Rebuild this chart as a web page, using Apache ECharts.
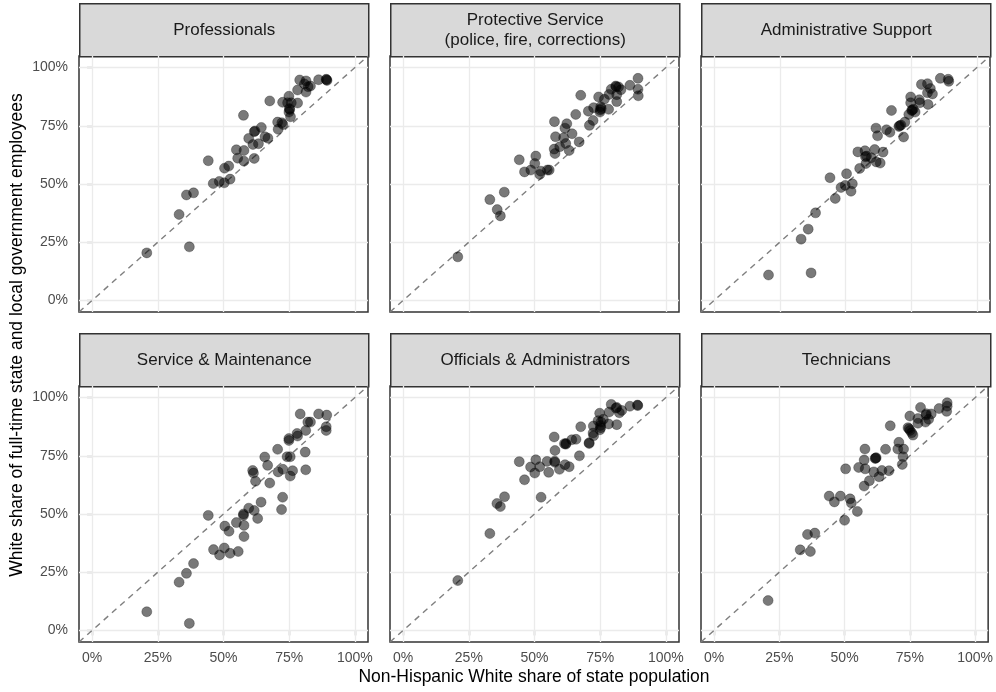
<!DOCTYPE html>
<html>
<head>
<meta charset="utf-8">
<script src="https://cdn.jsdelivr.net/npm/echarts@6/dist/echarts.min.js"></script>
<style>
  html, body { margin: 0; padding: 0; background: #fff; }
  #chart { width: 996px; height: 692px; }
</style>
</head>
<body>
<div id="chart"></div>
<script>
// Occupation groups shown as facets, left to right, top to bottom
const panelTitles = [
  'Professionals',
  'Protective Service\n(police, fire, corrections)',
  'Administrative Support',
  'Service & Maintenance',
  'Officials & Administrators',
  'Technicians'
];

// Axis ticks (shares, 0–1) shared by both axes of every facet
const tickValues = [0, 0.25, 0.5, 0.75, 1];

// [non-Hispanic White share of state population, White share of state/local employees]
const professionals = [
  [0.208,0.204],[0.370,0.230],[0.331,0.369],[0.359,0.453],[0.386,0.462],[0.442,0.600],
  [0.461,0.502],[0.484,0.511],[0.503,0.505],[0.525,0.521],[0.504,0.568],[0.520,0.577],
  [0.549,0.647],[0.554,0.611],[0.578,0.644],[0.578,0.598],[0.576,0.795],[0.596,0.696],
  [0.612,0.670],[0.617,0.610],[0.617,0.725],[0.620,0.728],[0.633,0.673],[0.644,0.743],
  [0.658,0.703],[0.669,0.697],[0.676,0.857],[0.708,0.735],[0.706,0.766],[0.722,0.763],
  [0.726,0.756],[0.725,0.851],[0.749,0.877],[0.744,0.849],[0.758,0.849],[0.751,0.824],
  [0.749,0.809],[0.755,0.789],[0.782,0.848],[0.782,0.904],[0.790,0.947],[0.814,0.943],
  [0.814,0.895],[0.822,0.918],[0.831,0.921],[0.808,0.930],[0.862,0.948],[0.891,0.950],
  [0.894,0.945],[0.752,0.820],[0.892,0.948]
];

const protectiveService = [
  [0.208,0.187],[0.330,0.433],[0.358,0.390],[0.370,0.363],[0.385,0.465],[0.442,0.604],
  [0.462,0.552],[0.486,0.560],[0.501,0.588],[0.505,0.620],[0.520,0.541],[0.524,0.555],
  [0.549,0.560],[0.556,0.560],[0.576,0.768],[0.575,0.650],[0.578,0.631],[0.580,0.703],
  [0.596,0.660],[0.611,0.699],[0.616,0.740],[0.623,0.759],[0.619,0.674],[0.632,0.644],
  [0.643,0.716],[0.657,0.799],[0.670,0.681],[0.676,0.881],[0.705,0.813],[0.709,0.752],
  [0.723,0.773],[0.725,0.828],[0.744,0.874],[0.752,0.832],[0.754,0.824],[0.749,0.809],
  [0.766,0.864],[0.782,0.821],[0.784,0.885],[0.792,0.907],[0.809,0.921],[0.813,0.884],
  [0.813,0.854],[0.820,0.917],[0.829,0.905],[0.863,0.924],[0.894,0.954],[0.894,0.907],
  [0.895,0.879],[0.750,0.818],[0.811,0.918]
];

const administrativeSupport = [
  [0.207,0.109],[0.369,0.118],[0.331,0.263],[0.358,0.306],[0.386,0.376],[0.441,0.527],
  [0.461,0.438],[0.483,0.485],[0.499,0.494],[0.504,0.544],[0.521,0.469],[0.526,0.501],
  [0.547,0.638],[0.554,0.567],[0.574,0.643],[0.576,0.617],[0.578,0.588],[0.598,0.613],
  [0.611,0.648],[0.616,0.740],[0.617,0.595],[0.622,0.707],[0.632,0.590],[0.643,0.637],
  [0.656,0.733],[0.669,0.722],[0.675,0.816],[0.703,0.747],[0.711,0.753],[0.721,0.702],
  [0.726,0.766],[0.741,0.799],[0.748,0.874],[0.748,0.849],[0.752,0.816],[0.758,0.821],
  [0.765,0.809],[0.781,0.862],[0.783,0.849],[0.789,0.928],[0.812,0.931],[0.812,0.892],
  [0.814,0.842],[0.823,0.910],[0.831,0.887],[0.861,0.954],[0.891,0.950],[0.893,0.941],
  [0.580,0.620],[0.706,0.750],[0.754,0.818]
];

const serviceMaintenance = [
  [0.208,0.080],[0.370,0.030],[0.331,0.207],[0.359,0.245],[0.386,0.287],[0.442,0.494],
  [0.462,0.347],[0.485,0.324],[0.503,0.354],[0.505,0.448],[0.521,0.426],[0.525,0.331],
  [0.549,0.463],[0.556,0.339],[0.576,0.494],[0.578,0.451],[0.578,0.403],[0.596,0.525],
  [0.611,0.687],[0.614,0.676],[0.617,0.515],[0.622,0.641],[0.630,0.481],[0.643,0.551],
  [0.657,0.745],[0.668,0.709],[0.676,0.633],[0.706,0.778],[0.708,0.681],[0.721,0.519],
  [0.725,0.572],[0.726,0.692],[0.742,0.746],[0.749,0.824],[0.749,0.816],[0.754,0.746],
  [0.754,0.663],[0.763,0.686],[0.780,0.846],[0.782,0.835],[0.792,0.930],[0.811,0.766],
  [0.813,0.690],[0.813,0.859],[0.821,0.895],[0.831,0.895],[0.862,0.930],[0.893,0.925],
  [0.891,0.875],[0.891,0.859],[0.576,0.500]
];

const officialsAdministrators = [
  [0.208,0.214],[0.330,0.416],[0.357,0.545],[0.370,0.532],[0.386,0.574],[0.442,0.725],
  [0.462,0.647],[0.485,0.702],[0.501,0.676],[0.505,0.733],[0.520,0.703],[0.525,0.572],
  [0.548,0.726],[0.554,0.679],[0.575,0.831],[0.577,0.727],[0.578,0.773],[0.595,0.692],
  [0.614,0.802],[0.620,0.803],[0.616,0.712],[0.632,0.703],[0.642,0.819],[0.658,0.821],
  [0.671,0.750],[0.676,0.875],[0.708,0.803],[0.723,0.848],[0.725,0.836],[0.724,0.878],
  [0.748,0.933],[0.742,0.901],[0.752,0.871],[0.753,0.895],[0.762,0.907],[0.782,0.887],
  [0.784,0.938],[0.792,0.971],[0.813,0.958],[0.813,0.884],[0.823,0.935],[0.832,0.945],
  [0.863,0.963],[0.892,0.968],[0.893,0.966],[0.749,0.862],[0.577,0.722],[0.708,0.806],
  [0.810,0.955],[0.751,0.880],[0.619,0.800]
];

const technicians = [
  [0.207,0.128],[0.330,0.346],[0.358,0.412],[0.369,0.339],[0.386,0.418],[0.441,0.577],
  [0.461,0.552],[0.484,0.577],[0.500,0.473],[0.504,0.694],[0.521,0.565],[0.526,0.547],
  [0.549,0.511],[0.554,0.700],[0.575,0.620],[0.575,0.732],[0.578,0.779],[0.579,0.694],
  [0.595,0.643],[0.612,0.681],[0.617,0.739],[0.621,0.742],[0.632,0.660],[0.643,0.687],
  [0.657,0.778],[0.670,0.686],[0.675,0.879],[0.704,0.779],[0.708,0.808],[0.721,0.713],
  [0.724,0.746],[0.726,0.779],[0.743,0.871],[0.750,0.921],[0.751,0.859],[0.757,0.849],
  [0.762,0.839],[0.781,0.910],[0.781,0.890],[0.791,0.958],[0.813,0.931],[0.810,0.895],
  [0.822,0.907],[0.832,0.930],[0.862,0.953],[0.893,0.978],[0.893,0.963],[0.891,0.941],
  [0.747,0.866],[0.619,0.740],[0.812,0.925]
];

const panelData = [
  professionals, protectiveService, administrativeSupport,
  serviceMaintenance, officialsAdministrators, technicians
];

// Panel geometry (pixels)
const colLeft = [79, 390, 701];
const rowTop = [3, 333];
const panelW = 289;
const stripH = 53;
const plotH = 256;
const axisMin = -0.05, axisMax = 1.05;

const FONT = '"Liberation Sans", Arial, Helvetica, sans-serif';
const pct = v => Math.round(v * 100) + '%';

const grids = [], xAxes = [], yAxes = [], series = [], graphics = [];

panelData.forEach((pts, i) => {
  const col = i % 3, row = Math.floor(i / 3);
  const left = colLeft[col];
  const top = rowTop[row] + stripH;
  grids.push({
    left: left, top: top, width: panelW, height: plotH,
    show: true, borderColor: '#333333', borderWidth: 1.5, backgroundColor: '#ffffff',
    containLabel: false
  });
  const showX = row === 1;
  const showY = col === 0;
  xAxes.push({
    type: 'value', gridIndex: i, min: axisMin, max: axisMax,
    axisLine: { show: false },
    splitLine: { show: false },
    axisTick: { show: showX, customValues: tickValues, length: 5, inside: false,
                lineStyle: { color: '#333333', width: 1.2 } },
    axisLabel: { show: showX, customValues: tickValues, formatter: pct,
                 color: '#4d4d4d', fontSize: 14, fontFamily: FONT, margin: 9 }
  });
  yAxes.push({
    type: 'value', gridIndex: i, min: axisMin, max: axisMax,
    axisLine: { show: false },
    splitLine: { show: false },
    axisTick: { show: showY, customValues: tickValues, length: 5, inside: false,
                lineStyle: { color: '#333333', width: 1.2 } },
    axisLabel: { show: showY, customValues: tickValues, formatter: pct,
                 color: '#4d4d4d', fontSize: 14, fontFamily: FONT, margin: 11 }
  });

  // major grid lines at the tick values
  series.push({
    type: 'line', xAxisIndex: i, yAxisIndex: i, data: [], silent: true, z: 1,
    markLine: {
      silent: true, symbol: 'none', z: 1, animation: false,
      label: { show: false },
      lineStyle: { color: '#ebebeb', width: 1.3, type: 'solid' },
      emphasis: { disabled: true },
      data: tickValues.map(v => ({ xAxis: v })).concat(tickValues.map(v => ({ yAxis: v })))
    }
  });

  // y = x reference line spanning the panel
  series.push({
    type: 'line', xAxisIndex: i, yAxisIndex: i, z: 2, silent: true,
    data: [[axisMin, axisMin], [axisMax, axisMax]],
    symbol: 'none',
    lineStyle: { color: '#7f7f7f', width: 1.4, type: [6, 5] }
  });

  series.push({
    type: 'scatter', xAxisIndex: i, yAxisIndex: i, z: 3,
    data: pts, symbolSize: 10,
    itemStyle: { color: 'rgba(0,0,0,0.66)', borderColor: 'rgba(0,0,0,0.35)', borderWidth: 1 }
  });

  // facet strip
  graphics.push({
    type: 'group', left: left, top: rowTop[row],
    children: [
      { type: 'rect', shape: { x: 0, y: 0, width: panelW, height: stripH },
        style: { fill: '#d9d9d9', stroke: '#333333', lineWidth: 1.5 } },
      { type: 'text', x: panelW / 2, y: stripH / 2,
        style: { text: panelTitles[i], fill: '#1a1a1a', font: '17px ' + FONT,
                 align: 'center', verticalAlign: 'middle', lineHeight: 20 } }
    ]
  });
});

// axis titles
graphics.push({
  type: 'text', x: 534, y: 677,
  style: { text: 'Non-Hispanic White share of state population', fill: '#000',
           font: '17.5px ' + FONT, align: 'center', verticalAlign: 'middle' }
});
graphics.push({
  type: 'text', x: 17, y: 335, rotation: Math.PI / 2,
  style: { text: 'White share of full-time state and local government employees', fill: '#000',
           font: '17.5px ' + FONT, align: 'center', verticalAlign: 'middle' }
});

const chart = echarts.init(document.getElementById('chart'), null, { renderer: 'canvas' });
chart.setOption({
  animation: false,
  backgroundColor: '#ffffff',
  grid: grids,
  xAxis: xAxes,
  yAxis: yAxes,
  series: series,
  graphic: graphics
});
</script>
</body>
</html>
